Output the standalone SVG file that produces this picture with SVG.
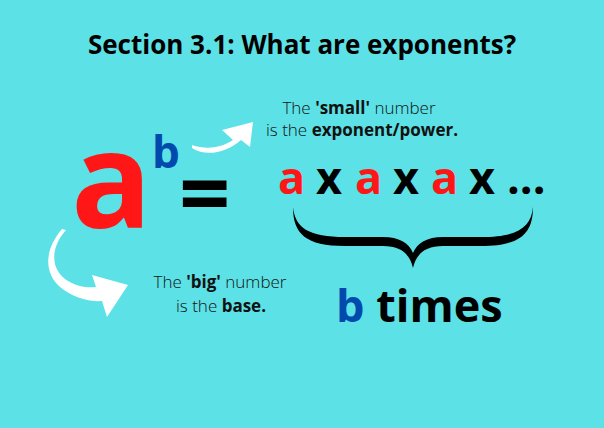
<svg xmlns="http://www.w3.org/2000/svg" width="604" height="428" viewBox="0 0 604 428">
<style>
.os{font-family:"Open Sans","Noto Sans","Liberation Sans",sans-serif}
.b{font-weight:700}
.l{font-weight:300;font-size:17px;fill:#111}
.red{fill:#ff1616}
.blue{fill:#004aad}
.blk{fill:#000}
.wh{fill:#fff}
</style>
<rect width="604" height="428" fill="#5ce1e6"/>
<g id="title"><text class="os b" x="302" y="54" font-size="26" text-anchor="middle" fill="#000">Section 3.1: What are exponents?</text></g>
<g id="base-a"><text class="os b red" x="71" y="228" font-size="134">a</text></g>
<g id="exp-b"><text class="os b blue" x="152" y="168" font-size="44">b</text></g>
<g id="equals"><text class="os b blk" x="179" y="225" font-size="90">=</text></g>
<g id="product" class="os b" font-size="45">
<text class="red" x="278" y="194">a</text>
<text class="blk" x="316" y="194">x</text>
<text class="red" x="355" y="194">a</text>
<text class="blk" x="393" y="194">x</text>
<text class="red" x="431" y="194">a</text>
<text class="blk" x="469" y="194">x</text>
<text class="blk" x="507" y="194">...</text>
</g>
<g id="brace"><path class="blk" d="M293,207 C293,234 306,246 345,246 L383,246 C402,246 410,255 413,268 C416,255 424,246 443,246 L481,246 C520,246 533,234 533,207 C531,228 517,237 481,237 L443,237 C427,237 417,243 413,253 C409,243 399,237 383,237 L345,237 C309,237 295,228 293,207 Z"/></g>
<g id="b-times" class="os b" font-size="45"><text x="336" y="322"><tspan class="blue">b</tspan><tspan class="blk"> times</tspan></text></g>
<g id="small-label" class="os l">
<text x="359" y="114" text-anchor="middle">The <tspan font-weight="700">'small'</tspan> number</text>
<text x="362" y="136" text-anchor="middle">is the <tspan font-weight="700">exponent/power.</tspan></text>
</g>
<g id="big-label" class="os l">
<text x="220" y="288" text-anchor="middle">The <tspan font-weight="700">'big'</tspan> number</text>
<text x="221" y="312" text-anchor="middle">is the <tspan font-weight="700">base.</tspan></text>
</g>
<g id="connectors">
<path class="wh" d="M192,145 C206,150 221,148 233,140 L222,130 L253,122 L250,147 L241,140 C226,153 206,157 192,148 Z"/>
<path class="wh" d="M66,230 C50,248 50,270 68,281 C78,287 88,288 96,287 L92,275 L128,285 L107,317 L102,301 C88,302 72,297 60,287 C44,273 44,250 62,229 Z"/>
</g>
</svg>
